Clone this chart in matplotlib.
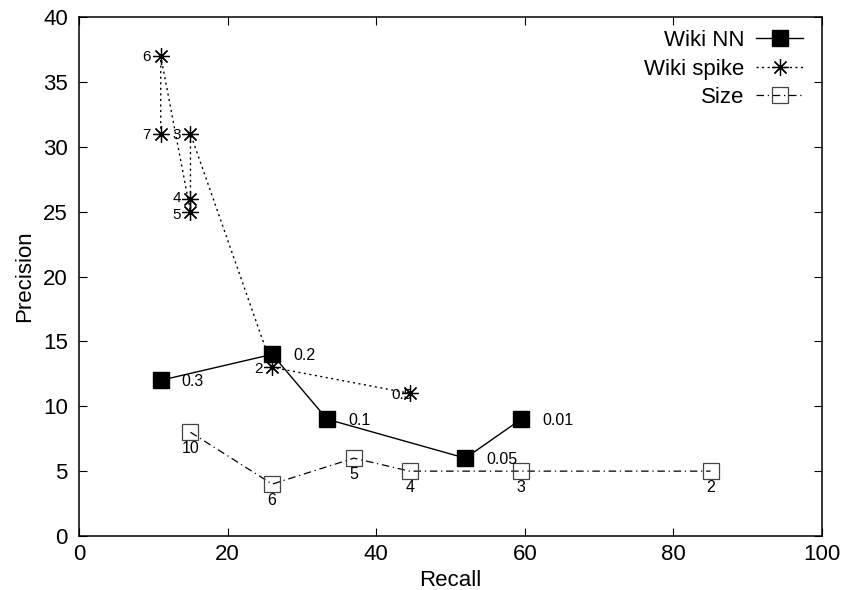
import matplotlib
matplotlib.use("Agg")
import matplotlib.pyplot as plt

plt.rcParams['font.family'] = ['Liberation Sans', 'DejaVu Sans']

# Wiki NN: threshold sweep
nn_recall = [11, 26, 33.4, 52, 59.5]
nn_precision = [12, 14, 9, 6, 9]
nn_labels = ['0.3', '0.2', '0.1', '0.05', '0.01']

# Wiki spike: window sweep
spike_recall = [44.5, 26, 15, 15, 15, 11, 11]
spike_precision = [11, 13, 31, 26, 25, 37, 31]
spike_labels = ['0.5', '2', '3', '4', '5', '6', '7']

# Size baseline
size_recall = [15, 26, 37, 44.5, 59.5, 85]
size_precision = [8, 4, 6, 5, 5, 5]
size_labels = ['10', '6', '5', '4', '3', '2']

fig = plt.figure(figsize=(8.46, 5.90), dpi=100)
ax = fig.add_axes([0.0934, 0.0915, 0.8782, 0.8797])

ax.plot(nn_recall, nn_precision, color='black', lw=1.0, marker='s',
        markersize=11, markerfacecolor='black', label='Wiki NN')
ax.plot(spike_recall, spike_precision, color='black', lw=1.0, linestyle=(0, (1.5, 2.5)),
        marker=(8, 2, 0), markersize=12, markeredgewidth=0.9, label='Wiki spike')
ax.plot(size_recall, size_precision, color='black', lw=0.9, linestyle=(0, (6, 3, 1, 3)),
        marker='s', markersize=11, markerfacecolor='none', markeredgewidth=0.9,
        markeredgecolor='#444444', label='Size')

for x, y, t in zip(nn_recall, nn_precision, nn_labels):
    ax.annotate(t, (x, y), xytext=(15, -1), textcoords='offset points',
                ha='left', va='center', fontsize=11.5)

# spike labels sit left of the marker; the 4/5 pair is nudged apart
nudge = {'4': 1.5, '5': -1.5}
for x, y, t in zip(spike_recall, spike_precision, spike_labels):
    dx = 2 if t == '0.5' else -7
    ax.annotate(t, (x, y), xytext=(dx, nudge.get(t, 0)), textcoords='offset points',
                ha='right', va='center_baseline', fontsize=11)
for x, y, t in zip(size_recall, size_precision, size_labels):
    ax.annotate(t, (x, y), xytext=(0, -12), textcoords='offset points',
                ha='center', va='center', fontsize=11.5)

ax.set_xlim(0, 100)
ax.set_ylim(0, 40)
ax.set_xticks(range(0, 101, 20))
ax.set_yticks(range(0, 41, 5))
ax.tick_params(direction='in', top=True, right=True, length=6, labelsize=16)
ax.tick_params(axis='y', pad=8)
ax.tick_params(axis='x', pad=6)
ax.set_xlabel('Recall', fontsize=16, labelpad=3)
ax.set_ylabel('Precision', fontsize=16, labelpad=6)
for s in ax.spines.values():
    s.set_linewidth(1.1)

leg = ax.legend(loc='upper right', bbox_to_anchor=(0.9744, 0.975), frameon=False,
                fontsize=16, markerfirst=False, handlelength=2.1, handletextpad=0.55,
                labelspacing=0.34, borderaxespad=0, borderpad=0)
for t in leg.get_texts():
    t.set_ha('right')

fig.savefig('out.png', dpi=100)
